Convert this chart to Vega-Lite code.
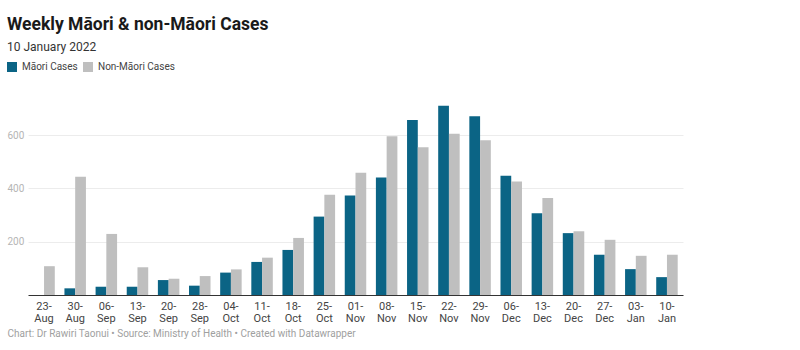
{
  "$schema": "https://vega.github.io/schema/vega-lite/v6.json",
  "width": 655,
  "height": 192,
  "autosize": "none",
  "padding": {"left": 28, "top": 103, "right": 117, "bottom": 55},
  "background": "white",
  "title": {
    "text": "Weekly Māori & non-Māori Cases",
    "subtitle": "10 January 2022",
    "anchor": "start",
    "frame": "bounds",
    "font": "Roboto",
    "fontSize": 17.5,
    "fontWeight": "bold",
    "color": "#1a1a1a",
    "subtitleFont": "Roboto",
    "subtitleFontSize": 12,
    "subtitleColor": "#333333",
    "subtitlePadding": 9,
    "offset": 9
  },
  "config": {
    "view": {"stroke": null},
    "font": "Roboto"
  },
  "data": {
    "values": [
      {"week": "23-Aug", "group": "Māori Cases", "cases": 0},
      {"week": "23-Aug", "group": "Non-Māori Cases", "cases": 108},
      {"week": "30-Aug", "group": "Māori Cases", "cases": 25},
      {"week": "30-Aug", "group": "Non-Māori Cases", "cases": 443},
      {"week": "06-Sep", "group": "Māori Cases", "cases": 31},
      {"week": "06-Sep", "group": "Non-Māori Cases", "cases": 229},
      {"week": "13-Sep", "group": "Māori Cases", "cases": 31},
      {"week": "13-Sep", "group": "Non-Māori Cases", "cases": 104},
      {"week": "20-Sep", "group": "Māori Cases", "cases": 56},
      {"week": "20-Sep", "group": "Non-Māori Cases", "cases": 61},
      {"week": "28-Sep", "group": "Māori Cases", "cases": 35},
      {"week": "28-Sep", "group": "Non-Māori Cases", "cases": 71},
      {"week": "04-Oct", "group": "Māori Cases", "cases": 84},
      {"week": "04-Oct", "group": "Non-Māori Cases", "cases": 96},
      {"week": "11-Oct", "group": "Māori Cases", "cases": 124},
      {"week": "11-Oct", "group": "Non-Māori Cases", "cases": 140},
      {"week": "18-Oct", "group": "Māori Cases", "cases": 169},
      {"week": "18-Oct", "group": "Non-Māori Cases", "cases": 214},
      {"week": "25-Oct", "group": "Māori Cases", "cases": 294},
      {"week": "25-Oct", "group": "Non-Māori Cases", "cases": 376},
      {"week": "01-Nov", "group": "Māori Cases", "cases": 373},
      {"week": "01-Nov", "group": "Non-Māori Cases", "cases": 458},
      {"week": "08-Nov", "group": "Māori Cases", "cases": 441},
      {"week": "08-Nov", "group": "Non-Māori Cases", "cases": 595},
      {"week": "15-Nov", "group": "Māori Cases", "cases": 656},
      {"week": "15-Nov", "group": "Non-Māori Cases", "cases": 554},
      {"week": "22-Nov", "group": "Māori Cases", "cases": 710},
      {"week": "22-Nov", "group": "Non-Māori Cases", "cases": 605},
      {"week": "29-Nov", "group": "Māori Cases", "cases": 670},
      {"week": "29-Nov", "group": "Non-Māori Cases", "cases": 580},
      {"week": "06-Dec", "group": "Māori Cases", "cases": 447},
      {"week": "06-Dec", "group": "Non-Māori Cases", "cases": 426},
      {"week": "13-Dec", "group": "Māori Cases", "cases": 307},
      {"week": "13-Dec", "group": "Non-Māori Cases", "cases": 364},
      {"week": "20-Dec", "group": "Māori Cases", "cases": 232},
      {"week": "20-Dec", "group": "Non-Māori Cases", "cases": 239},
      {"week": "27-Dec", "group": "Māori Cases", "cases": 151},
      {"week": "27-Dec", "group": "Non-Māori Cases", "cases": 207},
      {"week": "03-Jan", "group": "Māori Cases", "cases": 97},
      {"week": "03-Jan", "group": "Non-Māori Cases", "cases": 147},
      {"week": "10-Jan", "group": "Māori Cases", "cases": 67},
      {"week": "10-Jan", "group": "Non-Māori Cases", "cases": 151}
    ]
  },
  "layer": [
    {
      "mark": {"type": "bar"},
      "encoding": {
        "x": {
          "field": "week",
          "type": "nominal",
          "sort": null,
          "scale": {"paddingInner": 0.31, "paddingOuter": 0.17},
          "axis": {
            "title": "Chart: Dr Rawiri Taonui • Source: Ministry of Health • Created with Datawrapper",
            "titleFont": "Roboto",
            "titleFontSize": 10,
            "titleFontWeight": "normal",
            "titleColor": "#a0a0a0",
            "titleAnchor": "start",
            "titleAlign": "left",
            "titleBaseline": "alphabetic",
            "titleX": -21,
            "titleY": 41,
            "labelAngle": 0,
            "labelExpr": "[slice(datum.value, 0, 3), slice(datum.value, 3)]",
            "labelFont": "Roboto",
            "labelFontSize": 11,
            "labelColor": "#444444",
            "labelLineHeight": 12,
            "labelPadding": 5,
            "ticks": false,
            "domain": true,
            "domainColor": "#333333",
            "domainWidth": 1,
            "grid": false
          }
        },
        "xOffset": {"field": "group", "type": "nominal", "sort": ["Māori Cases", "Non-Māori Cases"]},
        "y": {
          "field": "cases",
          "type": "quantitative",
          "scale": {"domain": [0, 720], "nice": false},
          "axis": {
            "title": null,
            "values": [200, 400, 600],
            "domain": false,
            "ticks": false,
            "labelAlign": "left",
            "labelPadding": 21,
            "labelFont": "Roboto",
            "labelFontSize": 10,
            "labelColor": "#b5b5b5",
            "gridColor": "#ececec",
            "gridWidth": 1
          }
        },
        "color": {
          "field": "group",
          "type": "nominal",
          "sort": ["Māori Cases", "Non-Māori Cases"],
          "scale": {"domain": ["Māori Cases", "Non-Māori Cases"], "range": ["#0b6485", "#bfbfbf"]},
          "legend": {
            "title": null,
            "orient": "none",
            "legendX": -21,
            "legendY": -41,
            "direction": "horizontal",
            "symbolType": "square",
            "symbolSize": 100,
            "symbolStrokeWidth": 0,
            "labelFont": "Roboto",
            "labelFontSize": 10,
            "labelColor": "#444444",
            "labelOffset": 5,
            "columnPadding": 5
          }
        }
      }
    }
  ]
}
